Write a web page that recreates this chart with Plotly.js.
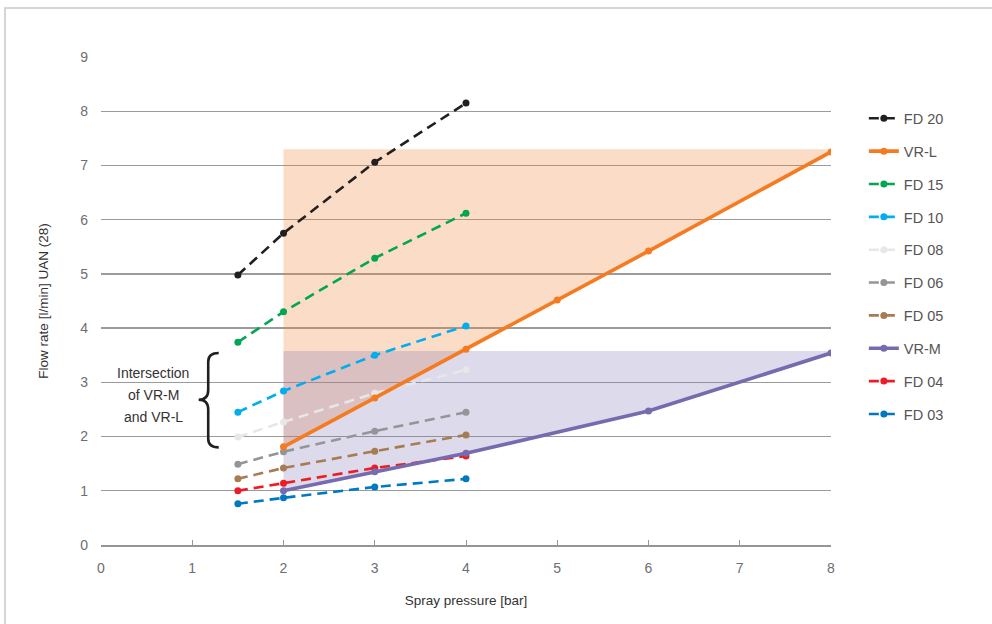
<!DOCTYPE html>
<html>
<head>
<meta charset="utf-8">
<script src="https://cdn.plot.ly/plotly-3.0.1.min.js"></script>
<style>html,body{margin:0;padding:0;background:#fff;}#chart{width:992px;height:624px;}</style>
</head>
<body>
<div id="chart"></div>
<script>
// ---- data ----
const fdPressure = [1.5, 2, 3, 4];
const fd20 = [4.98, 5.75, 7.06, 8.15];
const fd15 = [3.74, 4.30, 5.29, 6.12];
const fd10 = [2.45, 2.84, 3.50, 4.04];
const fd08 = [1.99, 2.27, 2.80, 3.23];
const fd06 = [1.49, 1.72, 2.10, 2.45];
const fd05 = [1.22, 1.42, 1.73, 2.03];
const fd04 = [1.00, 1.14, 1.42, 1.64];
const fd03 = [0.76, 0.87, 1.07, 1.22];

const vrlPressure = [2, 3, 4, 5, 6, 8];
const vrl = [1.81, 2.71, 3.61, 4.52, 5.42, 7.25];
const vrmPressure = [2, 3, 4, 6, 8];
const vrm = [1.00, 1.35, 1.69, 2.47, 3.54];

const vrlRangeTop = 7.3;   // top of VR-L shaded range
const vrmRangeTop = 3.58;  // top of VR-M shaded range

const xTicks = [0, 1, 2, 3, 4, 5, 6, 7, 8];
const yTicks = [0, 1, 2, 3, 4, 5, 6, 7, 8, 9];
const noteLines = ['Intersection', 'of VR-M', 'and VR-L'];

// ---- styles ----
const FONT = "Liberation Sans, Arial, sans-serif";
function band(xs, ys, top, color) {
  const px = xs.concat([xs[xs.length - 1], xs[0]]);
  const py = ys.concat([top, top]);
  return {x: px, y: py, type: 'scatter', mode: 'none', fill: 'toself',
          fillcolor: color, showlegend: false, hoverinfo: 'skip'};
}
function fd(name, ys, color, rank) {
  return {x: fdPressure, y: ys, name: name, type: 'scatter', mode: 'lines+markers',
          line: {color: color, width: 2.6, dash: '10px,6px'},
          marker: {color: color, size: 7}, legendrank: rank, legendgroup: name};
}
function vr(name, xs, ys, color, rank) {
  return {x: xs, y: ys, name: name, type: 'scatter', mode: 'lines+markers',
          line: {color: color, width: 3.6},
          marker: {color: color, size: 7}, legendrank: rank, legendgroup: name};
}

const traces = [
  band(vrlPressure, vrl, vrlRangeTop, 'rgba(241,130,50,0.28)'),
  band(vrmPressure, vrm, vrmRangeTop, 'rgba(118,107,175,0.25)'),
  fd('FD 03', fd03, '#0079C1', 10),
  fd('FD 04', fd04, '#ED1C24', 9),
  fd('FD 05', fd05, '#A67C52', 7),
  fd('FD 06', fd06, '#939598', 6),
  fd('FD 08', fd08, '#E6E7E8', 5),
  fd('FD 10', fd10, '#00AEEF', 4),
  fd('FD 15', fd15, '#00A651', 3),
  fd('FD 20', fd20, '#231F20', 1),
  vr('VR-M', vrmPressure, vrm, '#766BAF', 8),
  vr('VR-L', vrlPressure, vrl, '#F47B20', 2)
];

const noteY = [3.17, 2.77, 2.36];
const annotations = noteLines.map((t, i) => ({
  xref: 'x', yref: 'y', x: 0.57, y: noteY[i], showarrow: false,
  text: t, align: 'center', xanchor: 'center',
  font: {size: 14, color: '#333333', family: FONT}
}));

const layout = {
  width: 992, height: 624,
  margin: {l: 101, r: 161, t: 57, b: 79, pad: 0},
  paper_bgcolor: '#ffffff', plot_bgcolor: '#ffffff',
  font: {family: FONT, color: '#6D6E71', size: 14},
  xaxis: {
    range: [0, 8], tickvals: xTicks, ticktext: xTicks.map(String),
    showgrid: false, zeroline: false, showline: true, linecolor: '#939598', linewidth: 1.5,
    ticks: 'inside', ticklen: 5, tickcolor: '#939598', tickwidth: 1,
    tickfont: {size: 14, color: '#6D6E71'}, ticklabelstandoff: 10,
    title: {text: 'Spray pressure [bar]', font: {size: 13.5, color: '#333333'}, standoff: 20},
    fixedrange: true
  },
  yaxis: {
    range: [0, 9], tickvals: yTicks, ticktext: yTicks.map(String),
    showgrid: true, gridcolor: '#9A9B9E', gridwidth: 1.4, zeroline: false,
    showline: false, ticks: '', tickfont: {size: 14, color: '#6D6E71'},
    ticklabelstandoff: 12,
    title: {text: 'Flow rate [l/min] UAN (28)', font: {size: 13.5, color: '#333333'}, standoff: 28},
    fixedrange: true
  },
  legend: {
    x: 1.045, xanchor: 'left', y: 0.907, yanchor: 'top',
    font: {size: 14.5, color: '#555555'}, traceorder: 'grouped', tracegroupgap: 11,
    bgcolor: 'rgba(0,0,0,0)'
  },
  showlegend: true,
  annotations: annotations,
  shapes: [
    {type: 'path', xref: 'x', yref: 'y',
     path: 'M 1.29,3.54 Q 1.175,3.54 1.175,3.38 L 1.175,2.86 Q 1.175,2.68 1.07,2.68 Q 1.175,2.68 1.175,2.50 L 1.175,1.96 Q 1.175,1.80 1.29,1.80',
     line: {color: '#231F20', width: 2.6}},
    {type: 'rect', xref: 'paper', yref: 'paper', x0: -0.1315, x1: 1.25, y0: -0.2, y1: 1.1004,
     line: {color: '#C8C8C8', width: 1.5}, fillcolor: 'rgba(0,0,0,0)', layer: 'above'}
  ],
  hovermode: false
};

Plotly.newPlot('chart', traces, layout, {displayModeBar: false, staticPlot: true});
</script>
</body>
</html>
